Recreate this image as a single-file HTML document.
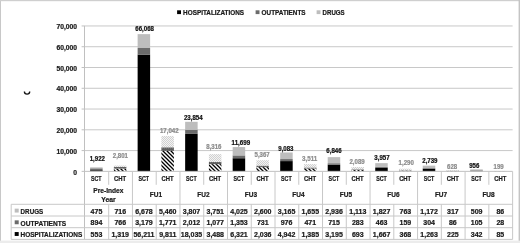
<!DOCTYPE html>
<html><head><meta charset="utf-8"><style>
html,body{margin:0;padding:0;background:#fff;}
body{width:520px;height:243px;overflow:hidden;position:relative;}
svg{position:absolute;left:0;top:0;display:block;will-change:transform;filter:blur(0.45px);}
text{font-family:"Liberation Sans", sans-serif;font-weight:bold;stroke-width:0.22px;}
</style></head><body>
<svg width="520" height="243" viewBox="0 0 520 243">
<defs>
<pattern id="hatch" patternUnits="userSpaceOnUse" x="0" y="0" width="4" height="4">
<rect x="0" y="0" width="4" height="4" fill="#fff"/>
<path d="M-1,-1 L5,5 M-1,3 L1,5 M3,-1 L5,1" stroke="#000" stroke-width="1.3" fill="none"/>
</pattern>
<pattern id="dots" patternUnits="userSpaceOnUse" width="2" height="2">
<rect x="0" y="0" width="2" height="2" fill="#f3f3f3"/>
<rect x="0" y="0" width="1" height="1" fill="#d0d0d0"/>
<rect x="1" y="1" width="1" height="1" fill="#d0d0d0"/>
</pattern>
<pattern id="opat" patternUnits="userSpaceOnUse" width="2" height="2">
<rect x="0" y="0" width="2" height="2" fill="#5e5e5e"/>
<rect x="0" y="0" width="1" height="1" fill="#747474"/>
</pattern>
</defs>
<rect x="0" y="0" width="520" height="243" fill="#fff"/>

<rect x="0" y="0" width="1" height="243" fill="#c8c8c8"/>
<rect x="0" y="0" width="520" height="1.2" fill="#cfcfcf"/>
<rect x="518.6" y="0" width="1.4" height="243" fill="#c4c4c4"/>
<rect x="0" y="240.6" width="520" height="2.4" fill="#ececec"/>
<line x1="84.5" y1="150.58" x2="512.61" y2="150.58" stroke="#c8c8c8" stroke-width="1"/>
<line x1="84.5" y1="129.81" x2="512.61" y2="129.81" stroke="#c8c8c8" stroke-width="1"/>
<line x1="84.5" y1="109.04" x2="512.61" y2="109.04" stroke="#c8c8c8" stroke-width="1"/>
<line x1="84.5" y1="88.27" x2="512.61" y2="88.27" stroke="#c8c8c8" stroke-width="1"/>
<line x1="84.5" y1="67.50" x2="512.61" y2="67.50" stroke="#c8c8c8" stroke-width="1"/>
<line x1="84.5" y1="46.73" x2="512.61" y2="46.73" stroke="#c8c8c8" stroke-width="1"/>
<line x1="84.5" y1="25.96" x2="512.61" y2="25.96" stroke="#c8c8c8" stroke-width="1"/>
<line x1="81.6" y1="171.35" x2="84.5" y2="171.35" stroke="#c0c0c0" stroke-width="1"/>
<text x="77.10" y="174.55" font-size="7" text-anchor="end" textLength="3.75" lengthAdjust="spacingAndGlyphs" fill="#1a1a1a" stroke="#1a1a1a">0</text>
<line x1="81.6" y1="150.58" x2="84.5" y2="150.58" stroke="#c0c0c0" stroke-width="1"/>
<text x="77.10" y="153.78" font-size="7" text-anchor="end" textLength="20.62" lengthAdjust="spacingAndGlyphs" fill="#1a1a1a" stroke="#1a1a1a">10,000</text>
<line x1="81.6" y1="129.81" x2="84.5" y2="129.81" stroke="#c0c0c0" stroke-width="1"/>
<text x="77.10" y="133.01" font-size="7" text-anchor="end" textLength="20.62" lengthAdjust="spacingAndGlyphs" fill="#1a1a1a" stroke="#1a1a1a">20,000</text>
<line x1="81.6" y1="109.04" x2="84.5" y2="109.04" stroke="#c0c0c0" stroke-width="1"/>
<text x="77.10" y="112.24" font-size="7" text-anchor="end" textLength="20.62" lengthAdjust="spacingAndGlyphs" fill="#1a1a1a" stroke="#1a1a1a">30,000</text>
<line x1="81.6" y1="88.27" x2="84.5" y2="88.27" stroke="#c0c0c0" stroke-width="1"/>
<text x="77.10" y="91.47" font-size="7" text-anchor="end" textLength="20.62" lengthAdjust="spacingAndGlyphs" fill="#1a1a1a" stroke="#1a1a1a">40,000</text>
<line x1="81.6" y1="67.50" x2="84.5" y2="67.50" stroke="#c0c0c0" stroke-width="1"/>
<text x="77.10" y="70.70" font-size="7" text-anchor="end" textLength="20.62" lengthAdjust="spacingAndGlyphs" fill="#1a1a1a" stroke="#1a1a1a">50,000</text>
<line x1="81.6" y1="46.73" x2="84.5" y2="46.73" stroke="#c0c0c0" stroke-width="1"/>
<text x="77.10" y="49.93" font-size="7" text-anchor="end" textLength="20.62" lengthAdjust="spacingAndGlyphs" fill="#1a1a1a" stroke="#1a1a1a">60,000</text>
<line x1="81.6" y1="25.96" x2="84.5" y2="25.96" stroke="#c0c0c0" stroke-width="1"/>
<text x="77.10" y="29.16" font-size="7" text-anchor="end" textLength="20.62" lengthAdjust="spacingAndGlyphs" fill="#1a1a1a" stroke="#1a1a1a">70,000</text>
<path d="M24.4,91.5 A2.65,2.65 0 0 0 29.7,91.5" stroke="#111" stroke-width="1.35" fill="none"/>
<rect x="90.11" y="170.20" width="12.5" height="1.15" fill="#000000"/>
<rect x="90.11" y="168.34" width="12.5" height="1.86" fill="#6b6b6b"/>
<rect x="90.11" y="167.36" width="12.5" height="0.99" fill="#bdbdbd"/>
<text x="97.30" y="161.35" font-size="6.5" text-anchor="middle" textLength="15.26" lengthAdjust="spacingAndGlyphs" fill="#111" stroke="#111">1,922</text>
<rect x="113.87" y="168.61" width="12.5" height="2.74" fill="url(#hatch)"/>
<rect x="113.87" y="167.02" width="12.5" height="1.59" fill="url(#opat)"/>
<rect x="113.87" y="165.53" width="12.5" height="1.49" fill="url(#dots)"/>
<text x="120.40" y="158.00" font-size="6.5" text-anchor="middle" textLength="15.26" lengthAdjust="spacingAndGlyphs" fill="#8c8c8c" stroke="#8c8c8c">2,801</text>
<rect x="137.63" y="54.60" width="12.5" height="116.75" fill="#000000"/>
<rect x="137.63" y="48.00" width="12.5" height="6.60" fill="#6b6b6b"/>
<rect x="137.63" y="34.13" width="12.5" height="13.87" fill="#bdbdbd"/>
<text x="144.65" y="30.95" font-size="6.5" text-anchor="middle" textLength="18.66" lengthAdjust="spacingAndGlyphs" fill="#111" stroke="#111">66,068</text>
<rect x="161.39" y="150.97" width="12.5" height="20.38" fill="url(#hatch)"/>
<rect x="161.39" y="147.29" width="12.5" height="3.68" fill="url(#opat)"/>
<rect x="161.39" y="135.95" width="12.5" height="11.34" fill="url(#dots)"/>
<text x="169.25" y="133.00" font-size="6.5" text-anchor="middle" textLength="18.66" lengthAdjust="spacingAndGlyphs" fill="#8c8c8c" stroke="#8c8c8c">17,042</text>
<rect x="185.15" y="133.89" width="12.5" height="37.46" fill="#000000"/>
<rect x="185.15" y="129.71" width="12.5" height="4.18" fill="#6b6b6b"/>
<rect x="185.15" y="121.81" width="12.5" height="7.91" fill="#bdbdbd"/>
<text x="193.30" y="119.50" font-size="6.5" text-anchor="middle" textLength="18.66" lengthAdjust="spacingAndGlyphs" fill="#111" stroke="#111">23,854</text>
<rect x="208.91" y="164.11" width="12.5" height="7.24" fill="url(#hatch)"/>
<rect x="208.91" y="161.87" width="12.5" height="2.24" fill="url(#opat)"/>
<rect x="208.91" y="154.08" width="12.5" height="7.79" fill="url(#dots)"/>
<text x="213.90" y="149.45" font-size="6.5" text-anchor="middle" textLength="15.26" lengthAdjust="spacingAndGlyphs" fill="#8c8c8c" stroke="#8c8c8c">8,316</text>
<rect x="232.67" y="158.22" width="12.5" height="13.13" fill="#000000"/>
<rect x="232.67" y="155.41" width="12.5" height="2.81" fill="#6b6b6b"/>
<rect x="232.67" y="147.05" width="12.5" height="8.36" fill="#bdbdbd"/>
<text x="240.85" y="144.95" font-size="6.5" text-anchor="middle" textLength="18.66" lengthAdjust="spacingAndGlyphs" fill="#111" stroke="#111">11,699</text>
<rect x="256.43" y="167.12" width="12.5" height="4.23" fill="url(#hatch)"/>
<rect x="256.43" y="165.60" width="12.5" height="1.52" fill="url(#opat)"/>
<rect x="256.43" y="160.20" width="12.5" height="5.40" fill="url(#dots)"/>
<text x="262.15" y="157.30" font-size="6.5" text-anchor="middle" textLength="15.26" lengthAdjust="spacingAndGlyphs" fill="#8c8c8c" stroke="#8c8c8c">5,367</text>
<rect x="280.19" y="161.09" width="12.5" height="10.26" fill="#000000"/>
<rect x="280.19" y="159.06" width="12.5" height="2.03" fill="#6b6b6b"/>
<rect x="280.19" y="152.48" width="12.5" height="6.57" fill="#bdbdbd"/>
<text x="285.90" y="151.20" font-size="6.5" text-anchor="middle" textLength="15.26" lengthAdjust="spacingAndGlyphs" fill="#111" stroke="#111">9,083</text>
<rect x="303.95" y="168.47" width="12.5" height="2.88" fill="url(#hatch)"/>
<rect x="303.95" y="167.50" width="12.5" height="0.98" fill="url(#opat)"/>
<rect x="303.95" y="164.06" width="12.5" height="3.44" fill="url(#dots)"/>
<text x="309.60" y="161.05" font-size="6.5" text-anchor="middle" textLength="15.26" lengthAdjust="spacingAndGlyphs" fill="#8c8c8c" stroke="#8c8c8c">3,511</text>
<rect x="327.71" y="164.71" width="12.5" height="6.64" fill="#000000"/>
<rect x="327.71" y="163.23" width="12.5" height="1.49" fill="#6b6b6b"/>
<rect x="327.71" y="157.13" width="12.5" height="6.10" fill="#bdbdbd"/>
<text x="333.95" y="153.10" font-size="6.5" text-anchor="middle" textLength="15.26" lengthAdjust="spacingAndGlyphs" fill="#111" stroke="#111">6,846</text>
<rect x="351.47" y="169.91" width="12.5" height="1.44" fill="url(#hatch)"/>
<rect x="351.47" y="169.32" width="12.5" height="0.59" fill="url(#opat)"/>
<rect x="351.47" y="167.01" width="12.5" height="2.31" fill="url(#dots)"/>
<text x="357.05" y="164.05" font-size="6.5" text-anchor="middle" textLength="15.26" lengthAdjust="spacingAndGlyphs" fill="#8c8c8c" stroke="#8c8c8c">2,089</text>
<rect x="375.23" y="167.89" width="12.5" height="3.46" fill="#000000"/>
<rect x="375.23" y="166.93" width="12.5" height="0.96" fill="#6b6b6b"/>
<rect x="375.23" y="163.13" width="12.5" height="3.79" fill="#bdbdbd"/>
<text x="382.00" y="160.05" font-size="6.5" text-anchor="middle" textLength="15.26" lengthAdjust="spacingAndGlyphs" fill="#111" stroke="#111">3,957</text>
<rect x="398.99" y="170.59" width="12.5" height="0.76" fill="url(#hatch)"/>
<rect x="398.99" y="170.26" width="12.5" height="0.33" fill="url(#opat)"/>
<rect x="398.99" y="168.67" width="12.5" height="1.58" fill="url(#dots)"/>
<text x="406.25" y="164.75" font-size="6.5" text-anchor="middle" textLength="15.26" lengthAdjust="spacingAndGlyphs" fill="#8c8c8c" stroke="#8c8c8c">1,290</text>
<rect x="422.75" y="168.73" width="12.5" height="2.62" fill="#000000"/>
<rect x="422.75" y="168.10" width="12.5" height="0.63" fill="#6b6b6b"/>
<rect x="422.75" y="165.66" width="12.5" height="2.43" fill="#bdbdbd"/>
<text x="429.90" y="163.00" font-size="6.5" text-anchor="middle" textLength="15.26" lengthAdjust="spacingAndGlyphs" fill="#111" stroke="#111">2,739</text>
<rect x="446.51" y="170.88" width="12.5" height="0.47" fill="url(#hatch)"/>
<rect x="446.51" y="170.70" width="12.5" height="0.18" fill="url(#opat)"/>
<rect x="446.51" y="170.05" width="12.5" height="0.66" fill="url(#dots)"/>
<text x="452.10" y="168.60" font-size="6.5" text-anchor="middle" textLength="10.18" lengthAdjust="spacingAndGlyphs" fill="#8c8c8c" stroke="#8c8c8c">628</text>
<rect x="470.27" y="170.64" width="12.5" height="0.71" fill="#000000"/>
<rect x="470.27" y="170.42" width="12.5" height="0.22" fill="#6b6b6b"/>
<rect x="470.27" y="169.36" width="12.5" height="1.06" fill="#bdbdbd"/>
<text x="474.30" y="167.55" font-size="6.5" text-anchor="middle" textLength="10.18" lengthAdjust="spacingAndGlyphs" fill="#111" stroke="#111">956</text>
<rect x="494.03" y="171.17" width="12.5" height="0.18" fill="url(#hatch)"/>
<rect x="494.03" y="171.12" width="12.5" height="0.06" fill="url(#opat)"/>
<rect x="494.03" y="170.94" width="12.5" height="0.18" fill="url(#dots)"/>
<text x="498.65" y="168.55" font-size="6.5" text-anchor="middle" textLength="10.18" lengthAdjust="spacingAndGlyphs" fill="#8c8c8c" stroke="#8c8c8c">199</text>
<line x1="84.5" y1="25.8" x2="84.5" y2="239.4" stroke="#c0c0c0" stroke-width="1"/>
<line x1="84.5" y1="171.35" x2="512.61" y2="171.35" stroke="#c0c0c0" stroke-width="1"/>
<line x1="11.2" y1="204.30" x2="512.61" y2="204.30" stroke="#c8c8c8" stroke-width="1"/>
<line x1="11.2" y1="216.00" x2="512.61" y2="216.00" stroke="#c8c8c8" stroke-width="1"/>
<line x1="11.2" y1="227.70" x2="512.61" y2="227.70" stroke="#c8c8c8" stroke-width="1"/>
<line x1="11.2" y1="239.40" x2="512.61" y2="239.40" stroke="#c8c8c8" stroke-width="1"/>
<line x1="11.2" y1="204.3" x2="11.2" y2="239.40" stroke="#c8c8c8" stroke-width="1"/>
<line x1="108.69" y1="171.35" x2="108.69" y2="184.8" stroke="#c8c8c8" stroke-width="1"/>
<line x1="108.69" y1="204.3" x2="108.69" y2="239.40" stroke="#c8c8c8" stroke-width="1"/>
<line x1="132.45" y1="171.35" x2="132.45" y2="239.40" stroke="#c8c8c8" stroke-width="1"/>
<line x1="156.21" y1="171.35" x2="156.21" y2="184.8" stroke="#c8c8c8" stroke-width="1"/>
<line x1="156.21" y1="204.3" x2="156.21" y2="239.40" stroke="#c8c8c8" stroke-width="1"/>
<line x1="179.97" y1="171.35" x2="179.97" y2="239.40" stroke="#c8c8c8" stroke-width="1"/>
<line x1="203.73" y1="171.35" x2="203.73" y2="184.8" stroke="#c8c8c8" stroke-width="1"/>
<line x1="203.73" y1="204.3" x2="203.73" y2="239.40" stroke="#c8c8c8" stroke-width="1"/>
<line x1="227.49" y1="171.35" x2="227.49" y2="239.40" stroke="#c8c8c8" stroke-width="1"/>
<line x1="251.25" y1="171.35" x2="251.25" y2="184.8" stroke="#c8c8c8" stroke-width="1"/>
<line x1="251.25" y1="204.3" x2="251.25" y2="239.40" stroke="#c8c8c8" stroke-width="1"/>
<line x1="275.01" y1="171.35" x2="275.01" y2="239.40" stroke="#c8c8c8" stroke-width="1"/>
<line x1="298.77" y1="171.35" x2="298.77" y2="184.8" stroke="#c8c8c8" stroke-width="1"/>
<line x1="298.77" y1="204.3" x2="298.77" y2="239.40" stroke="#c8c8c8" stroke-width="1"/>
<line x1="322.53" y1="171.35" x2="322.53" y2="239.40" stroke="#c8c8c8" stroke-width="1"/>
<line x1="346.29" y1="171.35" x2="346.29" y2="184.8" stroke="#c8c8c8" stroke-width="1"/>
<line x1="346.29" y1="204.3" x2="346.29" y2="239.40" stroke="#c8c8c8" stroke-width="1"/>
<line x1="370.05" y1="171.35" x2="370.05" y2="239.40" stroke="#c8c8c8" stroke-width="1"/>
<line x1="393.81" y1="171.35" x2="393.81" y2="184.8" stroke="#c8c8c8" stroke-width="1"/>
<line x1="393.81" y1="204.3" x2="393.81" y2="239.40" stroke="#c8c8c8" stroke-width="1"/>
<line x1="417.57" y1="171.35" x2="417.57" y2="239.40" stroke="#c8c8c8" stroke-width="1"/>
<line x1="441.33" y1="171.35" x2="441.33" y2="184.8" stroke="#c8c8c8" stroke-width="1"/>
<line x1="441.33" y1="204.3" x2="441.33" y2="239.40" stroke="#c8c8c8" stroke-width="1"/>
<line x1="465.09" y1="171.35" x2="465.09" y2="239.40" stroke="#c8c8c8" stroke-width="1"/>
<line x1="488.85" y1="171.35" x2="488.85" y2="184.8" stroke="#c8c8c8" stroke-width="1"/>
<line x1="488.85" y1="204.3" x2="488.85" y2="239.40" stroke="#c8c8c8" stroke-width="1"/>
<line x1="512.61" y1="171.35" x2="512.61" y2="239.40" stroke="#c8c8c8" stroke-width="1"/>
<text x="96.31" y="181.40" font-size="6.8" text-anchor="middle" textLength="10.6" lengthAdjust="spacingAndGlyphs" fill="#1a1a1a" stroke="#1a1a1a">SCT</text>
<text x="120.07" y="181.40" font-size="6.8" text-anchor="middle" textLength="12.1" lengthAdjust="spacingAndGlyphs" fill="#1a1a1a" stroke="#1a1a1a">CHT</text>
<text x="143.83" y="181.40" font-size="6.8" text-anchor="middle" textLength="10.6" lengthAdjust="spacingAndGlyphs" fill="#1a1a1a" stroke="#1a1a1a">SCT</text>
<text x="167.59" y="181.40" font-size="6.8" text-anchor="middle" textLength="12.1" lengthAdjust="spacingAndGlyphs" fill="#1a1a1a" stroke="#1a1a1a">CHT</text>
<text x="191.35" y="181.40" font-size="6.8" text-anchor="middle" textLength="10.6" lengthAdjust="spacingAndGlyphs" fill="#1a1a1a" stroke="#1a1a1a">SCT</text>
<text x="215.11" y="181.40" font-size="6.8" text-anchor="middle" textLength="12.1" lengthAdjust="spacingAndGlyphs" fill="#1a1a1a" stroke="#1a1a1a">CHT</text>
<text x="238.87" y="181.40" font-size="6.8" text-anchor="middle" textLength="10.6" lengthAdjust="spacingAndGlyphs" fill="#1a1a1a" stroke="#1a1a1a">SCT</text>
<text x="262.63" y="181.40" font-size="6.8" text-anchor="middle" textLength="12.1" lengthAdjust="spacingAndGlyphs" fill="#1a1a1a" stroke="#1a1a1a">CHT</text>
<text x="286.39" y="181.40" font-size="6.8" text-anchor="middle" textLength="10.6" lengthAdjust="spacingAndGlyphs" fill="#1a1a1a" stroke="#1a1a1a">SCT</text>
<text x="310.15" y="181.40" font-size="6.8" text-anchor="middle" textLength="12.1" lengthAdjust="spacingAndGlyphs" fill="#1a1a1a" stroke="#1a1a1a">CHT</text>
<text x="333.91" y="181.40" font-size="6.8" text-anchor="middle" textLength="10.6" lengthAdjust="spacingAndGlyphs" fill="#1a1a1a" stroke="#1a1a1a">SCT</text>
<text x="357.67" y="181.40" font-size="6.8" text-anchor="middle" textLength="12.1" lengthAdjust="spacingAndGlyphs" fill="#1a1a1a" stroke="#1a1a1a">CHT</text>
<text x="381.43" y="181.40" font-size="6.8" text-anchor="middle" textLength="10.6" lengthAdjust="spacingAndGlyphs" fill="#1a1a1a" stroke="#1a1a1a">SCT</text>
<text x="405.19" y="181.40" font-size="6.8" text-anchor="middle" textLength="12.1" lengthAdjust="spacingAndGlyphs" fill="#1a1a1a" stroke="#1a1a1a">CHT</text>
<text x="428.95" y="181.40" font-size="6.8" text-anchor="middle" textLength="10.6" lengthAdjust="spacingAndGlyphs" fill="#1a1a1a" stroke="#1a1a1a">SCT</text>
<text x="452.71" y="181.40" font-size="6.8" text-anchor="middle" textLength="12.1" lengthAdjust="spacingAndGlyphs" fill="#1a1a1a" stroke="#1a1a1a">CHT</text>
<text x="476.47" y="181.40" font-size="6.8" text-anchor="middle" textLength="10.6" lengthAdjust="spacingAndGlyphs" fill="#1a1a1a" stroke="#1a1a1a">SCT</text>
<text x="500.23" y="181.40" font-size="6.8" text-anchor="middle" textLength="12.1" lengthAdjust="spacingAndGlyphs" fill="#1a1a1a" stroke="#1a1a1a">CHT</text>
<text x="108.39" y="193.30" font-size="6.9" text-anchor="middle" textLength="30.08" lengthAdjust="spacingAndGlyphs" fill="#1a1a1a" stroke="#1a1a1a">Pre-Index</text>
<text x="108.39" y="201.70" font-size="6.9" text-anchor="middle" textLength="14.31" lengthAdjust="spacingAndGlyphs" fill="#1a1a1a" stroke="#1a1a1a">Year</text>
<text x="155.91" y="197.30" font-size="6.9" text-anchor="middle" textLength="12.28" lengthAdjust="spacingAndGlyphs" fill="#1a1a1a" stroke="#1a1a1a">FU1</text>
<text x="203.43" y="197.30" font-size="6.9" text-anchor="middle" textLength="12.28" lengthAdjust="spacingAndGlyphs" fill="#1a1a1a" stroke="#1a1a1a">FU2</text>
<text x="250.95" y="197.30" font-size="6.9" text-anchor="middle" textLength="12.28" lengthAdjust="spacingAndGlyphs" fill="#1a1a1a" stroke="#1a1a1a">FU3</text>
<text x="298.47" y="197.30" font-size="6.9" text-anchor="middle" textLength="12.28" lengthAdjust="spacingAndGlyphs" fill="#1a1a1a" stroke="#1a1a1a">FU4</text>
<text x="345.99" y="197.30" font-size="6.9" text-anchor="middle" textLength="12.28" lengthAdjust="spacingAndGlyphs" fill="#1a1a1a" stroke="#1a1a1a">FU5</text>
<text x="393.51" y="197.30" font-size="6.9" text-anchor="middle" textLength="12.28" lengthAdjust="spacingAndGlyphs" fill="#1a1a1a" stroke="#1a1a1a">FU6</text>
<text x="441.03" y="197.30" font-size="6.9" text-anchor="middle" textLength="12.28" lengthAdjust="spacingAndGlyphs" fill="#1a1a1a" stroke="#1a1a1a">FU7</text>
<text x="488.55" y="197.30" font-size="6.9" text-anchor="middle" textLength="12.28" lengthAdjust="spacingAndGlyphs" fill="#1a1a1a" stroke="#1a1a1a">FU8</text>
<rect x="14.7" y="208.65" width="4" height="3.9" fill="#bdbdbd"/>
<text x="20.60" y="213.85" font-size="7.0" textLength="22.6" lengthAdjust="spacingAndGlyphs" fill="#1a1a1a" stroke="#1a1a1a">DRUGS</text>
<text x="96.46" y="213.55" font-size="7.0" text-anchor="middle" fill="#1a1a1a" stroke="#1a1a1a">475</text>
<text x="120.22" y="213.55" font-size="7.0" text-anchor="middle" fill="#1a1a1a" stroke="#1a1a1a">716</text>
<text x="143.98" y="213.55" font-size="7.0" text-anchor="middle" fill="#1a1a1a" stroke="#1a1a1a">6,678</text>
<text x="167.74" y="213.55" font-size="7.0" text-anchor="middle" fill="#1a1a1a" stroke="#1a1a1a">5,460</text>
<text x="191.50" y="213.55" font-size="7.0" text-anchor="middle" fill="#1a1a1a" stroke="#1a1a1a">3,807</text>
<text x="215.26" y="213.55" font-size="7.0" text-anchor="middle" fill="#1a1a1a" stroke="#1a1a1a">3,751</text>
<text x="239.02" y="213.55" font-size="7.0" text-anchor="middle" fill="#1a1a1a" stroke="#1a1a1a">4,025</text>
<text x="262.78" y="213.55" font-size="7.0" text-anchor="middle" fill="#1a1a1a" stroke="#1a1a1a">2,600</text>
<text x="286.54" y="213.55" font-size="7.0" text-anchor="middle" fill="#1a1a1a" stroke="#1a1a1a">3,165</text>
<text x="310.30" y="213.55" font-size="7.0" text-anchor="middle" fill="#1a1a1a" stroke="#1a1a1a">1,655</text>
<text x="334.06" y="213.55" font-size="7.0" text-anchor="middle" fill="#1a1a1a" stroke="#1a1a1a">2,936</text>
<text x="357.82" y="213.55" font-size="7.0" text-anchor="middle" fill="#1a1a1a" stroke="#1a1a1a">1,113</text>
<text x="381.58" y="213.55" font-size="7.0" text-anchor="middle" fill="#1a1a1a" stroke="#1a1a1a">1,827</text>
<text x="405.34" y="213.55" font-size="7.0" text-anchor="middle" fill="#1a1a1a" stroke="#1a1a1a">763</text>
<text x="429.10" y="213.55" font-size="7.0" text-anchor="middle" fill="#1a1a1a" stroke="#1a1a1a">1,172</text>
<text x="452.86" y="213.55" font-size="7.0" text-anchor="middle" fill="#1a1a1a" stroke="#1a1a1a">317</text>
<text x="476.62" y="213.55" font-size="7.0" text-anchor="middle" fill="#1a1a1a" stroke="#1a1a1a">509</text>
<text x="500.38" y="213.55" font-size="7.0" text-anchor="middle" fill="#1a1a1a" stroke="#1a1a1a">86</text>
<rect x="14.7" y="220.35" width="4" height="3.9" fill="#6b6b6b"/>
<text x="20.60" y="225.55" font-size="7.0" textLength="45.5" lengthAdjust="spacingAndGlyphs" fill="#1a1a1a" stroke="#1a1a1a">OUTPATIENTS</text>
<text x="96.46" y="225.25" font-size="7.0" text-anchor="middle" fill="#1a1a1a" stroke="#1a1a1a">894</text>
<text x="120.22" y="225.25" font-size="7.0" text-anchor="middle" fill="#1a1a1a" stroke="#1a1a1a">766</text>
<text x="143.98" y="225.25" font-size="7.0" text-anchor="middle" fill="#1a1a1a" stroke="#1a1a1a">3,179</text>
<text x="167.74" y="225.25" font-size="7.0" text-anchor="middle" fill="#1a1a1a" stroke="#1a1a1a">1,771</text>
<text x="191.50" y="225.25" font-size="7.0" text-anchor="middle" fill="#1a1a1a" stroke="#1a1a1a">2,012</text>
<text x="215.26" y="225.25" font-size="7.0" text-anchor="middle" fill="#1a1a1a" stroke="#1a1a1a">1,077</text>
<text x="239.02" y="225.25" font-size="7.0" text-anchor="middle" fill="#1a1a1a" stroke="#1a1a1a">1,353</text>
<text x="262.78" y="225.25" font-size="7.0" text-anchor="middle" fill="#1a1a1a" stroke="#1a1a1a">731</text>
<text x="286.54" y="225.25" font-size="7.0" text-anchor="middle" fill="#1a1a1a" stroke="#1a1a1a">976</text>
<text x="310.30" y="225.25" font-size="7.0" text-anchor="middle" fill="#1a1a1a" stroke="#1a1a1a">471</text>
<text x="334.06" y="225.25" font-size="7.0" text-anchor="middle" fill="#1a1a1a" stroke="#1a1a1a">715</text>
<text x="357.82" y="225.25" font-size="7.0" text-anchor="middle" fill="#1a1a1a" stroke="#1a1a1a">283</text>
<text x="381.58" y="225.25" font-size="7.0" text-anchor="middle" fill="#1a1a1a" stroke="#1a1a1a">463</text>
<text x="405.34" y="225.25" font-size="7.0" text-anchor="middle" fill="#1a1a1a" stroke="#1a1a1a">159</text>
<text x="429.10" y="225.25" font-size="7.0" text-anchor="middle" fill="#1a1a1a" stroke="#1a1a1a">304</text>
<text x="452.86" y="225.25" font-size="7.0" text-anchor="middle" fill="#1a1a1a" stroke="#1a1a1a">86</text>
<text x="476.62" y="225.25" font-size="7.0" text-anchor="middle" fill="#1a1a1a" stroke="#1a1a1a">105</text>
<text x="500.38" y="225.25" font-size="7.0" text-anchor="middle" fill="#1a1a1a" stroke="#1a1a1a">28</text>
<rect x="14.7" y="232.05" width="4" height="3.9" fill="#000000"/>
<text x="20.60" y="237.25" font-size="7.0" textLength="61.7" lengthAdjust="spacingAndGlyphs" fill="#1a1a1a" stroke="#1a1a1a">HOSPITALIZATIONS</text>
<text x="96.46" y="236.95" font-size="7.0" text-anchor="middle" fill="#1a1a1a" stroke="#1a1a1a">553</text>
<text x="120.22" y="236.95" font-size="7.0" text-anchor="middle" fill="#1a1a1a" stroke="#1a1a1a">1,319</text>
<text x="143.98" y="236.95" font-size="7.0" text-anchor="middle" fill="#1a1a1a" stroke="#1a1a1a">56,211</text>
<text x="167.74" y="236.95" font-size="7.0" text-anchor="middle" fill="#1a1a1a" stroke="#1a1a1a">9,811</text>
<text x="191.50" y="236.95" font-size="7.0" text-anchor="middle" fill="#1a1a1a" stroke="#1a1a1a">18,035</text>
<text x="215.26" y="236.95" font-size="7.0" text-anchor="middle" fill="#1a1a1a" stroke="#1a1a1a">3,488</text>
<text x="239.02" y="236.95" font-size="7.0" text-anchor="middle" fill="#1a1a1a" stroke="#1a1a1a">6,321</text>
<text x="262.78" y="236.95" font-size="7.0" text-anchor="middle" fill="#1a1a1a" stroke="#1a1a1a">2,036</text>
<text x="286.54" y="236.95" font-size="7.0" text-anchor="middle" fill="#1a1a1a" stroke="#1a1a1a">4,942</text>
<text x="310.30" y="236.95" font-size="7.0" text-anchor="middle" fill="#1a1a1a" stroke="#1a1a1a">1,385</text>
<text x="334.06" y="236.95" font-size="7.0" text-anchor="middle" fill="#1a1a1a" stroke="#1a1a1a">3,195</text>
<text x="357.82" y="236.95" font-size="7.0" text-anchor="middle" fill="#1a1a1a" stroke="#1a1a1a">693</text>
<text x="381.58" y="236.95" font-size="7.0" text-anchor="middle" fill="#1a1a1a" stroke="#1a1a1a">1,667</text>
<text x="405.34" y="236.95" font-size="7.0" text-anchor="middle" fill="#1a1a1a" stroke="#1a1a1a">368</text>
<text x="429.10" y="236.95" font-size="7.0" text-anchor="middle" fill="#1a1a1a" stroke="#1a1a1a">1,263</text>
<text x="452.86" y="236.95" font-size="7.0" text-anchor="middle" fill="#1a1a1a" stroke="#1a1a1a">225</text>
<text x="476.62" y="236.95" font-size="7.0" text-anchor="middle" fill="#1a1a1a" stroke="#1a1a1a">342</text>
<text x="500.38" y="236.95" font-size="7.0" text-anchor="middle" fill="#1a1a1a" stroke="#1a1a1a">85</text>
<rect x="177.1" y="10.3" width="3.9" height="3.8" fill="#000000"/>
<text x="183.10" y="14.90" font-size="6.5" textLength="61.0" lengthAdjust="spacingAndGlyphs" fill="#1a1a1a" stroke="#1a1a1a">HOSPITALIZATIONS</text>
<rect x="255.6" y="10.3" width="3.9" height="3.8" fill="#6b6b6b"/>
<text x="261.60" y="14.90" font-size="6.5" textLength="44.0" lengthAdjust="spacingAndGlyphs" fill="#1a1a1a" stroke="#1a1a1a">OUTPATIENTS</text>
<rect x="316.6" y="10.3" width="3.9" height="3.8" fill="#bdbdbd"/>
<text x="322.60" y="14.90" font-size="6.5" textLength="22.0" lengthAdjust="spacingAndGlyphs" fill="#1a1a1a" stroke="#1a1a1a">DRUGS</text>
</svg></body></html>
